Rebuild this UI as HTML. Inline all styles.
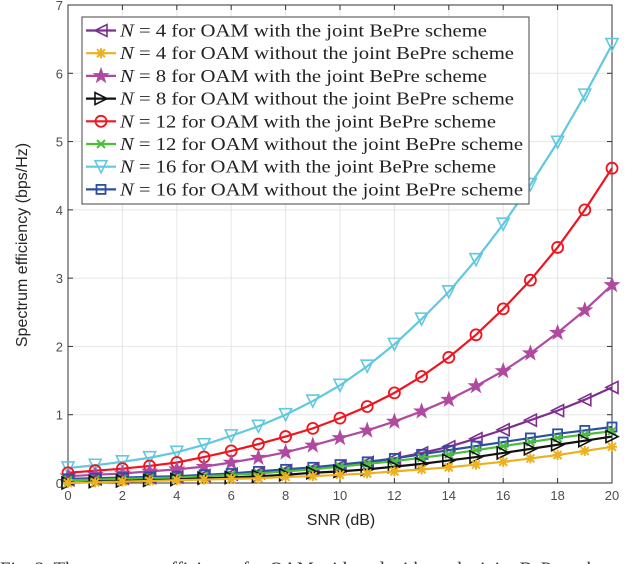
<!DOCTYPE html>
<html><head><meta charset="utf-8"><style>
body{margin:0;background:#fff;width:640px;height:564px;overflow:hidden}
svg{display:block}
</style></head><body>
<svg id="chart" width="640" height="564" xmlns="http://www.w3.org/2000/svg" font-family="Liberation Sans, sans-serif">
<g id="grid"></g>
<g id="axes"></g>
<g id="series"></g>
<g id="legend"></g>
<text x="341" y="525" font-size="16" text-anchor="middle" fill="#262626">SNR (dB)</text>
<text transform="translate(27,245) rotate(-90)" font-size="16" text-anchor="middle" fill="#262626">Spectrum efficiency (bps/Hz)</text>
<text x="0" y="575" font-size="19" font-family="Liberation Serif, serif" fill="#333">Fig. 3.    The spectrum efficiency for OAM with and without the joint BePre scheme</text>
</svg>
<script>
const snr=[0,1,2,3,4,5,6,7,8,9,10,11,12,13,14,15,16,17,18,19,20];
const xTicks=[0,2,4,6,8,10,12,14,16,18,20];
const yTicks=[0,1,2,3,4,5,6,7];
const n4with=[0.05,0.06,0.07,0.08,0.09,0.11,0.13,0.15,0.18,0.21,0.25,0.30,0.36,0.44,0.53,0.65,0.78,0.92,1.06,1.22,1.40];
const n4without=[0.0,0.01,0.02,0.03,0.04,0.05,0.06,0.07,0.09,0.10,0.12,0.14,0.17,0.20,0.23,0.27,0.31,0.36,0.41,0.47,0.53];
const n8with=[0.10,0.12,0.14,0.17,0.20,0.24,0.30,0.37,0.45,0.55,0.66,0.77,0.90,1.05,1.22,1.42,1.64,1.90,2.20,2.53,2.90];
const n8without=[0.0,0.02,0.03,0.04,0.05,0.07,0.08,0.10,0.12,0.15,0.17,0.20,0.24,0.28,0.33,0.38,0.44,0.50,0.56,0.62,0.68];
const n12with=[0.15,0.18,0.21,0.25,0.30,0.38,0.47,0.57,0.68,0.80,0.95,1.12,1.32,1.56,1.84,2.17,2.55,2.97,3.45,4.00,4.61];
const n12without=[0.04,0.05,0.06,0.07,0.08,0.10,0.12,0.14,0.17,0.20,0.24,0.28,0.32,0.37,0.42,0.48,0.54,0.60,0.66,0.71,0.76];
const n16with=[0.22,0.26,0.31,0.37,0.45,0.56,0.69,0.83,1.00,1.20,1.43,1.71,2.03,2.40,2.80,3.27,3.79,4.37,4.99,5.68,6.42];
const n16without=[0.06,0.07,0.08,0.09,0.10,0.12,0.14,0.17,0.20,0.23,0.27,0.31,0.36,0.42,0.48,0.54,0.60,0.66,0.72,0.77,0.82];
const legendLabels=["4 for OAM with the joint BePre scheme","4 for OAM without the joint BePre scheme","8 for OAM with the joint BePre scheme","8 for OAM without the joint BePre scheme","12 for OAM with the joint BePre scheme","12 for OAM without the joint BePre scheme","16 for OAM with the joint BePre scheme","16 for OAM without the joint BePre scheme"];

const NS="http://www.w3.org/2000/svg";
const L=68,R=612,T=5,B=483;
const LEG_TEXT_X=120;
const legendTextRight=[487,514,487,514,496,523,496,523];
const X=v=>L+(v-0)/(20-0)*(R-L);
const Y=v=>B-(v-0)/(7-0)*(B-T);
function mk(tag,attrs,parent){const e=document.createElementNS(NS,tag);for(const k in attrs)e.setAttribute(k,attrs[k]);parent.appendChild(e);return e;}
const grid=document.getElementById('grid'),axes=document.getElementById('axes'),ser=document.getElementById('series'),leg=document.getElementById('legend');
mk('rect',{x:L,y:T,width:R-L,height:B-T,fill:'#fff'},grid);
xTicks.forEach(t=>{
  const g=mk('line',{x1:X(t),x2:X(t),y1:T,y2:B,stroke:'#e6e6e6','stroke-width':1},grid);
  
  
  mk('line',{x1:X(t),x2:X(t),y1:B,y2:B-5,stroke:'#333','stroke-width':1},axes);
  mk('line',{x1:X(t),x2:X(t),y1:T,y2:T+5,stroke:'#333','stroke-width':1},axes);
  const tx=mk('text',{x:X(t),y:B+17,'font-size':13,'text-anchor':'middle',fill:'#4d4d4d'},axes);
  tx.textContent=t;
  
  
});
yTicks.forEach(t=>{
  const g=mk('line',{x1:L,x2:R,y1:Y(t),y2:Y(t),stroke:'#e6e6e6','stroke-width':1},grid);
  
  
  mk('line',{x1:L,x2:L+5,y1:Y(t),y2:Y(t),stroke:'#333','stroke-width':1},axes);
  mk('line',{x1:R,x2:R-5,y1:Y(t),y2:Y(t),stroke:'#333','stroke-width':1},axes);
  const tx=mk('text',{x:L-5,y:Y(t)+5,'font-size':13,'text-anchor':'end',fill:'#4d4d4d'},axes);
  tx.textContent=t;
  
  
});
const box=mk('rect',{x:L,y:T,width:R-L,height:B-T,fill:'none',stroke:'#333','stroke-width':1},axes);



function marker(type,x,y,c,p){
  const s=6;
  switch(type){
    case 'tl': return mk('polygon',{points:`${x-s},${y} ${x+s},${y-s} ${x+s},${y+s}`,fill:'none',stroke:c,'stroke-width':1.6},p);
    case 'tr': return mk('polygon',{points:`${x+s},${y} ${x-s},${y-s} ${x-s},${y+s}`,fill:'none',stroke:c,'stroke-width':1.6},p);
    case 'td': return mk('polygon',{points:`${x-s},${y-s} ${x+s},${y-s} ${x},${y+s}`,fill:'none',stroke:c,'stroke-width':1.6},p);
    case 'o': return mk('circle',{cx:x,cy:y,r:5.5,fill:'none',stroke:c,'stroke-width':1.8},p);
    case 'sq': return mk('rect',{x:x-4.5,y:y-4.5,width:9,height:9,fill:'none',stroke:c,'stroke-width':1.8},p);
    case 'x': return mk('path',{d:`M${x-4},${y-4}L${x+4},${y+4}M${x-4},${y+4}L${x+4},${y-4}`,stroke:c,'stroke-width':2},p);
    case 'ast': return mk('path',{d:`M${x-5},${y}L${x+5},${y}M${x},${y-5}L${x},${y+5}M${x-4},${y-4}L${x+4},${y+4}M${x-4},${y+4}L${x+4},${y-4}`,stroke:c,'stroke-width':2},p);
    case 'star':{let pts=[];for(let i=0;i<10;i++){const r=i%2?3:7.5,a=-Math.PI/2+i*Math.PI/5;pts.push((x+r*Math.cos(a)).toFixed(1)+','+(y+r*Math.sin(a)).toFixed(1));}
      return mk('polygon',{points:pts.join(' '),fill:c,stroke:c,'stroke-width':1},p);}
  }
}
const seriesList=[
 {d:n4with,c:'#7e2f8e',m:'tl',n:'n4-with-bepre'},
 {d:n4without,c:'#edb120',m:'ast',n:'n4-without-bepre'},
 {d:n8with,c:'#b04aa0',m:'star',n:'n8-with-bepre'},
 {d:n8without,c:'#111111',m:'tr',n:'n8-without-bepre'},
 {d:n12with,c:'#f0141e',m:'o',n:'n12-with-bepre'},
 {d:n12without,c:'#4dbe3a',m:'x',n:'n12-without-bepre'},
 {d:n16with,c:'#62c8de',m:'td',n:'n16-with-bepre'},
 {d:n16without,c:'#2c4fa5',m:'sq',n:'n16-without-bepre'}
];
const order=[6,4,2,0,7,5,3,1];
order.forEach(i=>{
  const s=seriesList[i];
  const g=mk('g',{},ser);
  
  
  const ln=mk('polyline',{points:s.d.map((v,j)=>X(snr[j])+','+Y(v)).join(' '),fill:'none',stroke:s.c,'stroke-width':2.2},g);
  
  
  s.d.forEach((v,j)=>{
    const m=marker(s.m,X(snr[j]),Y(v),s.c,g);
    
    
  });
});
// legend
const lb=mk('rect',{x:82,y:17,width:447,height:187,fill:'#fff',stroke:'#444','stroke-width':1},leg);


seriesList.forEach((s,i)=>{
  const y=30.5+i*22.7;
  const g=mk('g',{},leg);
  
  
  mk('line',{x1:86,x2:116,y1:y,y2:y,stroke:s.c,'stroke-width':2.2},g);
  marker(s.m,101,y,s.c,g);
  const t=mk('text',{x:LEG_TEXT_X,y:y+6,'font-size':18,'font-family':'Liberation Serif, serif',fill:'#222'},g);
  const it=mk('tspan',{'font-style':'italic'},t);it.textContent='N';
  const rest=mk('tspan',{},t);rest.textContent=' = '+legendLabels[i];
  t.setAttribute('textLength',legendTextRight[i]-LEG_TEXT_X);
  t.setAttribute('lengthAdjust','spacingAndGlyphs');
});
</script>
</body></html>
